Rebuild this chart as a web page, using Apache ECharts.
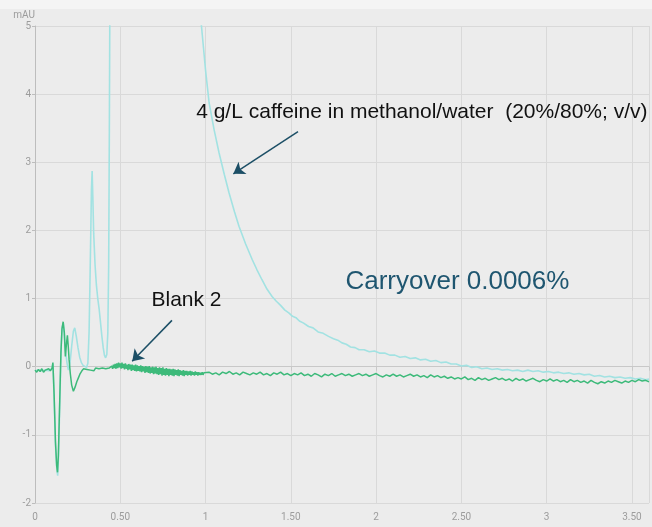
<!DOCTYPE html>
<html>
<head>
<meta charset="utf-8">
<script src="https://cdn.jsdelivr.net/npm/echarts@6/dist/echarts.min.js"></script>
<style>html,body{margin:0;padding:0;background:#ececec;}#c{width:652px;height:527px;}</style>
</head>
<body>
<div id="c"></div>
<script>
// ---- Data (time in min, absorbance in mAU) ----
var blankTrace = [
[0,-0.05],[0.01,-0.08],[0.02,-0.04],[0.03,-0.07],[0.04,-0.03],[0.05,-0.08],[0.06,-0.05],[0.07,-0.07],[0.08,-0.03],[0.09,-0.06],[0.1,-0.02],[0.105,0.06],[0.112,-0.4],[0.12,-1.1],[0.127,-1.45],[0.132,-1.55],[0.137,-1.3],[0.145,-0.5],[0.152,0.2],[0.158,0.55],[0.165,0.66],[0.172,0.5],[0.178,0.15],[0.185,0.35],[0.19,0.46],[0.195,0.3],[0.2,0.1],[0.207,-0.1],[0.215,-0.27],[0.225,-0.36],[0.235,-0.3],[0.245,-0.22],[0.255,-0.16],[0.265,-0.1],[0.275,-0.06],[0.285,-0.03],[0.295,-0.02],[0.305,-0.04],
[0.315,-0.02],[0.325,-0.05],[0.335,-0.03],[0.345,-0.06],[0.355,-0.02],[0.365,-0.04],[0.375,-0.03],[0.385,-0.05],[0.395,-0.02],[0.405,-0.04],[0.415,-0.03],[0.425,-0.05],[0.435,-0.02],[0.445,-0.03],
[0.45,0.01],[0.455,-0.03],[0.46,0.03],[0.465,-0.02],[0.47,0.04],[0.475,-0.03],[0.48,0.05],[0.485,-0.02],[0.49,0.06],[0.495,-0.01],[0.5,0.05],[0.505,-0.03],[0.51,0.06],[0.515,-0.02],[0.52,0.04],[0.525,-0.04],[0.53,0.05],[0.535,-0.03],[0.54,0.03],[0.545,-0.05],[0.55,0.04],[0.555,-0.04],[0.56,0.03],[0.565,-0.06],[0.57,0.03],[0.575,-0.05],[0.58,0.02],[0.585,-0.06],[0.59,0.03],[0.595,-0.07],[0.6,0.02],[0.605,-0.06],[0.61,0.01],[0.615,-0.07],[0.62,0.02],[0.625,-0.08],[0.63,0.01],[0.635,-0.07],[0.64,0.0],[0.645,-0.09],[0.65,0.01],[0.655,-0.08],[0.66,0.0],[0.665,-0.09],[0.67,0.01],[0.675,-0.1],[0.68,-0.01],[0.685,-0.09],[0.69,0.0],[0.695,-0.11],[0.7,-0.01],[0.705,-0.1],[0.71,0.0],[0.715,-0.11],[0.72,-0.02],[0.725,-0.12],[0.73,-0.01],[0.735,-0.11],[0.74,-0.02],[0.745,-0.13],[0.75,-0.01],[0.755,-0.12],[0.76,-0.03],[0.765,-0.13],[0.77,-0.02],[0.775,-0.12],[0.78,-0.03],[0.785,-0.14],[0.79,-0.03],[0.795,-0.12],[0.8,-0.04],[0.805,-0.13],[0.81,-0.03],[0.815,-0.14],[0.82,-0.04],[0.825,-0.12],[0.83,-0.05],[0.835,-0.13],[0.84,-0.04],[0.845,-0.14],[0.85,-0.05],[0.855,-0.12],[0.86,-0.06],[0.865,-0.13],[0.87,-0.05],[0.875,-0.14],[0.88,-0.06],[0.885,-0.12],[0.89,-0.06],[0.895,-0.13],[0.9,-0.07],[0.905,-0.12],[0.91,-0.06],[0.915,-0.13],[0.92,-0.07],[0.925,-0.12],[0.93,-0.08],[0.935,-0.13],[0.94,-0.07],[0.945,-0.12],[0.95,-0.08],[0.955,-0.13],[0.96,-0.08],[0.965,-0.12],[0.97,-0.09],[0.975,-0.12],[0.98,-0.08],[0.985,-0.12],[0.99,-0.09],[0.995,-0.11],[1.0,-0.1],
[1.02,-0.08],[1.04,-0.11],[1.06,-0.09],[1.08,-0.12],[1.1,-0.08],[1.12,-0.1],[1.14,-0.07],[1.16,-0.11],[1.18,-0.09],[1.2,-0.12],[1.22,-0.08],[1.24,-0.1],[1.26,-0.12],[1.28,-0.09],[1.3,-0.11],[1.32,-0.08],[1.34,-0.12],[1.36,-0.1],[1.38,-0.13],[1.4,-0.09],[1.42,-0.11],[1.44,-0.08],[1.46,-0.12],[1.48,-0.1],[1.5,-0.13],[1.52,-0.1],[1.54,-0.12],[1.56,-0.09],[1.58,-0.13],[1.6,-0.11],[1.62,-0.14],[1.64,-0.1],[1.66,-0.12],[1.68,-0.15],[1.7,-0.11],[1.72,-0.13],[1.74,-0.1],[1.76,-0.14],[1.78,-0.12],[1.8,-0.1],[1.82,-0.13],[1.84,-0.11],[1.86,-0.14],[1.88,-0.12],[1.9,-0.1],[1.92,-0.13],[1.94,-0.11],[1.96,-0.14],[1.98,-0.12],[2.0,-0.1],
[2.02,-0.13],[2.04,-0.15],[2.06,-0.12],[2.08,-0.14],[2.1,-0.11],[2.12,-0.14],[2.14,-0.12],[2.16,-0.15],[2.18,-0.13],[2.2,-0.11],[2.22,-0.14],[2.24,-0.12],[2.26,-0.15],[2.28,-0.13],[2.3,-0.16],[2.32,-0.12],[2.34,-0.15],[2.36,-0.13],[2.38,-0.16],[2.4,-0.14],[2.42,-0.17],[2.44,-0.15],[2.46,-0.18],[2.48,-0.16],[2.5,-0.18],[2.52,-0.15],[2.54,-0.19],[2.56,-0.17],[2.58,-0.2],[2.6,-0.16],[2.62,-0.19],[2.64,-0.17],[2.66,-0.2],[2.68,-0.18],[2.7,-0.16],[2.72,-0.19],[2.74,-0.17],[2.76,-0.2],[2.78,-0.18],[2.8,-0.21],[2.82,-0.17],[2.84,-0.2],[2.86,-0.18],[2.88,-0.21],[2.9,-0.19],[2.92,-0.17],[2.94,-0.2],[2.96,-0.22],[2.98,-0.19],[3.0,-0.21],
[3.02,-0.18],[3.04,-0.21],[3.06,-0.19],[3.08,-0.22],[3.1,-0.2],[3.12,-0.23],[3.14,-0.19],[3.16,-0.22],[3.18,-0.2],[3.2,-0.23],[3.22,-0.21],[3.24,-0.24],[3.26,-0.2],[3.28,-0.23],[3.3,-0.25],[3.32,-0.22],[3.34,-0.24],[3.36,-0.21],[3.38,-0.23],[3.4,-0.2],[3.42,-0.22],[3.44,-0.24],[3.46,-0.21],[3.48,-0.23],[3.5,-0.2],[3.52,-0.22],[3.54,-0.19],[3.56,-0.21],[3.58,-0.2],[3.6,-0.22]
];

var caffeineTrace = [
[0,-0.06],[0.02,-0.05],[0.04,-0.06],[0.06,-0.05],[0.08,-0.06],[0.1,-0.03],[0.105,0.04],[0.112,-0.45],[0.12,-1.15],[0.128,-1.5],[0.133,-1.6],[0.138,-1.3],[0.146,-0.45],[0.153,0.25],[0.159,0.58],[0.166,0.64],[0.173,0.45],[0.18,0.2],[0.188,0.05],[0.196,-0.05],[0.205,0.05],[0.215,0.3],[0.225,0.52],[0.233,0.57],[0.242,0.45],[0.252,0.28],[0.262,0.14],[0.272,0.06],[0.282,0.02],[0.292,0.0],[0.302,-0.01],
[0.31,0.05],[0.317,0.5],[0.322,1.2],[0.327,1.96],[0.331,2.6],[0.335,2.87],[0.339,2.5],[0.344,1.96],[0.352,1.5],[0.36,1.2],[0.368,1.0],[0.376,0.85],[0.384,0.65],[0.392,0.45],[0.4,0.28],[0.407,0.17],[0.414,0.13],[0.421,0.18],[0.427,0.5],[0.432,1.5],[0.436,3.5],[0.44,6],[0.45,20],[0.6,40],[0.9,8],[0.95,5.6],
[0.976,5.0],[1.0,4.35],[1.021,3.87],[1.05,3.48],[1.079,3.14],[1.11,2.82],[1.138,2.55],[1.17,2.27],[1.196,2.06],[1.235,1.8],[1.274,1.57],[1.3,1.43],[1.33,1.28],[1.36,1.14],[1.39,1.03],[1.415,0.96],[1.44,0.9],[1.465,0.83],[1.488,0.79],[1.51,0.74],[1.53,0.72],[1.55,0.67],[1.575,0.64],[1.604,0.59],[1.63,0.57],[1.66,0.51],[1.69,0.49],[1.721,0.445],[1.75,0.41],[1.775,0.39],[1.8,0.35],[1.825,0.33],[1.85,0.29],[1.877,0.28],[1.9,0.25],[1.93,0.25],[1.96,0.22],[1.99,0.23],[2.02,0.2],[2.05,0.2],[2.08,0.17],[2.11,0.17],[2.14,0.14],[2.17,0.15],[2.2,0.12],[2.23,0.13],[2.26,0.1],[2.29,0.11],[2.32,0.08],[2.35,0.09],[2.38,0.06],[2.41,0.07],[2.44,0.04],[2.47,0.04],[2.5,0.01],[2.53,0.02],[2.56,-0.01],[2.59,0.0],[2.62,-0.03],[2.65,-0.02],[2.68,-0.04],[2.71,-0.03],[2.74,-0.05],[2.77,-0.04],[2.8,-0.06],[2.83,-0.05],[2.86,-0.07],[2.89,-0.05],[2.92,-0.07],[2.95,-0.06],[2.98,-0.08],[3.01,-0.07],[3.04,-0.09],[3.07,-0.08],[3.1,-0.1],[3.13,-0.09],[3.16,-0.11],[3.19,-0.1],[3.22,-0.12],[3.25,-0.11],[3.28,-0.14],[3.31,-0.13],[3.34,-0.15],[3.37,-0.14],[3.4,-0.16],[3.43,-0.15],[3.46,-0.17],[3.49,-0.16],[3.52,-0.18],[3.55,-0.17],[3.58,-0.19],[3.6,-0.18]
];

var xTicks = [0, 0.5, 1, 1.5, 2, 2.5, 3, 3.5];
var yTicks = [-2, -1, 0, 1, 2, 3, 4, 5];

var caffeineLabel = '4 g/L caffeine in methanol/water  (20%/80%; v/v)';
var blankLabel = 'Blank 2';
var carryoverLabel = 'Carryover 0.0006%';
// annotation anchors in data coords [time, mAU]
var caffeineLabelAt = [0.945, 3.74];
var blankLabelAt = [0.683, 0.97];
var carryoverLabelAt = [1.82, 1.25];
var caffeineArrow = [[1.542, 3.45], [1.163, 2.83]];
var blankArrow = [[0.803, 0.68], [0.57, 0.08]];

var chart = echarts.init(document.getElementById('c'), null, {renderer: 'canvas'});
var gridColor = '#d9d9d9';
var labelColor = '#9c9c9c';
var arrowColor = '#1c4f66';

function fmtX(v) {
  return Math.abs(v - Math.round(v)) < 1e-9 ? String(Math.round(v)) : v.toFixed(2);
}

chart.setOption({
  backgroundColor: '#ececec',
  animation: false,
  grid: {left: 35, right: 0, top: 26, bottom: 24, containLabel: false},
  xAxis: {
    type: 'value', min: 0, max: 3.6, interval: 0.5, offset: 5,
    axisLine: {show: true, lineStyle: {color: '#c8c8c8', width: 1}},
    axisTick: {show: true, length: 4, lineStyle: {color: '#c8c8c8'}},
    axisLabel: {color: labelColor, fontSize: 10, fontFamily: 'Roboto', margin: 4,
      formatter: function (v) { return xTicks.indexOf(v) >= 0 ? fmtX(v) : ''; }},
    splitLine: {show: true, lineStyle: {color: gridColor, width: 1}}
  },
  yAxis: {
    type: 'value', min: -2, max: 5, interval: 1,
    name: 'mAU', nameLocation: 'end', nameGap: 6,
    nameTextStyle: {color: labelColor, fontSize: 10, fontFamily: 'Roboto', align: 'right'},
    axisLine: {show: true, lineStyle: {color: '#bdbdbd', width: 1}},
    axisTick: {show: true, length: 3, lineStyle: {color: '#bdbdbd'}},
    axisLabel: {color: labelColor, fontSize: 10, fontFamily: 'Roboto', margin: 4,
      formatter: function (v) { return yTicks.indexOf(v) >= 0 ? String(v) : ''; }},
    splitLine: {show: true, lineStyle: {color: gridColor, width: 1}}
  },
  series: [
    {
      name: 'caffeine', type: 'line', data: caffeineTrace, showSymbol: false, symbol: 'none',
      clip: true, z: 2,
      lineStyle: {color: '#a2e2e2', width: 1.6}
    },
    {
      name: 'blank', type: 'line', data: blankTrace, showSymbol: false, symbol: 'none',
      clip: true, z: 3,
      lineStyle: {color: '#3dba7a', width: 1.5},
      markLine: {
        silent: true, symbol: ['none', 'arrow'], symbolSize: 11,
        label: {show: false},
        emphasis: {disabled: true},
        lineStyle: {color: arrowColor, width: 1.5, type: 'solid'},
        itemStyle: {color: arrowColor},
        data: [
          [{coord: caffeineArrow[0]}, {coord: caffeineArrow[1]}],
          [{coord: blankArrow[0]}, {coord: blankArrow[1]}]
        ]
      }
    }
  ]
});

function px(p) { return chart.convertToPixel({gridIndex: 0}, p); }
var pC = px(caffeineLabelAt), pB = px(blankLabelAt), pK = px(carryoverLabelAt);
chart.setOption({
  graphic: [
    {type: 'rect', left: 0, top: 0, z: -1, shape: {width: 652, height: 9}, style: {fill: '#f4f4f4'}, silent: true},
    {type: 'text', x: pC[0], y: pC[1], z: 10, style: {text: caffeineLabel, fill: '#111111', font: '21px "Liberation Sans", Arial, sans-serif', textVerticalAlign: 'middle', textAlign: 'left'}},
    {type: 'text', x: pB[0], y: pB[1], z: 10, style: {text: blankLabel, fill: '#111111', font: '21px "Liberation Sans", Arial, sans-serif', textVerticalAlign: 'middle', textAlign: 'left'}},
    {type: 'text', x: pK[0], y: pK[1], z: 10, style: {text: carryoverLabel, fill: '#1f5670', font: '26px "Liberation Sans", Arial, sans-serif', textVerticalAlign: 'middle', textAlign: 'left'}}
  ]
});
</script>
</body>
</html>
